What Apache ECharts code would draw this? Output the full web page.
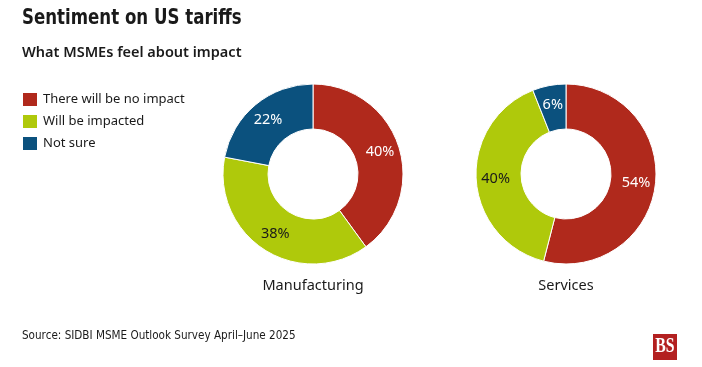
<!DOCTYPE html>
<html><head><meta charset="utf-8">
<script src="https://cdn.jsdelivr.net/npm/echarts@6/dist/echarts.min.js"></script>
<style>html,body{margin:0;padding:0;background:#fff}#c{width:702px;height:367px}</style>
</head><body><div id="c"></div>
<script>
const categories = ['There will be no impact', 'Will be impacted', 'Not sure'];
const manufacturing = [40, 38, 22];
const services = [54, 40, 6];
const groupNames = ['Manufacturing', 'Services'];
const titleText = 'Sentiment on US tariffs';
const subtitleText = 'What MSMEs feel about impact';
const sourceText = 'Source: SIDBI MSME Outlook Survey April–June 2025';
const colors = ['#B0291C', '#AFC90B', '#0B517E'];
const labelColors = ['#ffffff', '#1a1a1a', '#ffffff'];

const FONT = 'Noto Sans';
const COND = '"DejaVu Sans Condensed", Roboto, sans-serif';
function makeData(vals) {
  return categories.map((c, i) => ({
    name: c, value: vals[i],
    itemStyle: { color: colors[i] },
    label: { color: labelColors[i] }
  }));
}
function pie(vals, cx) {
  return {
    type: 'pie', center: [cx, 174], radius: [45, 90], startAngle: 90, clockwise: true,
    avoidLabelOverlap: false, animation: false, silent: true,
    itemStyle: { borderColor: '#fff', borderWidth: 1 },
    label: { position: 'inside', formatter: '{c}%', fontFamily: FONT, fontSize: 14.5 },
    labelLine: { show: false },
    data: makeData(vals)
  };
}
const chart = echarts.init(document.getElementById('c'));
chart.setOption({
  backgroundColor: '#fff',
  animation: false,
  title: [
    { text: subtitleText, left: 22, top: 45, padding: 0, textStyle: { fontFamily: FONT, fontWeight: 600, fontSize: 14.5, color: '#1a1a1a' } },
    { text: groupNames[0], left: 313, top: 278, padding: 0, textAlign: 'center', textStyle: { fontFamily: FONT, fontWeight: 'normal', fontSize: 14.5, color: '#1a1a1a' } },
    { text: groupNames[1], left: 566, top: 278, padding: 0, textAlign: 'center', textStyle: { fontFamily: FONT, fontWeight: 'normal', fontSize: 14.5, color: '#1a1a1a' } },
    { text: sourceText, left: 22, top: 330, padding: 0, textStyle: { fontFamily: COND, fontWeight: 'normal', fontSize: 11.6, color: '#1a1a1a' } }
  ],
  legend: {
    orient: 'vertical', left: 21, top: 91, padding: 0, itemWidth: 16, itemHeight: 15, itemGap: 5,
    icon: 'rect', selectedMode: false,
    textStyle: { fontFamily: FONT, fontSize: 13, color: '#1a1a1a' },
    data: categories
  },
  graphic: [
    { type: 'text', x: 22, y: 8, scaleX: 0.88, style: { text: titleText, fill: '#1a1a1a', font: 'bold 21px "DejaVu Sans Condensed", Roboto, sans-serif', align: 'left', verticalAlign: 'top' } },
    { type: 'rect', left: 653, top: 334, shape: { width: 24, height: 26 }, style: { fill: '#B32020' } },
    { type: 'text', x: 665, y: 347, scaleX: 0.75, style: { text: 'BS', fill: '#fff', font: 'bold 21px "Liberation Serif"', align: 'center', verticalAlign: 'middle' } }
  ],
  series: [pie(manufacturing, 313), pie(services, 566)]
});
</script></body></html>
